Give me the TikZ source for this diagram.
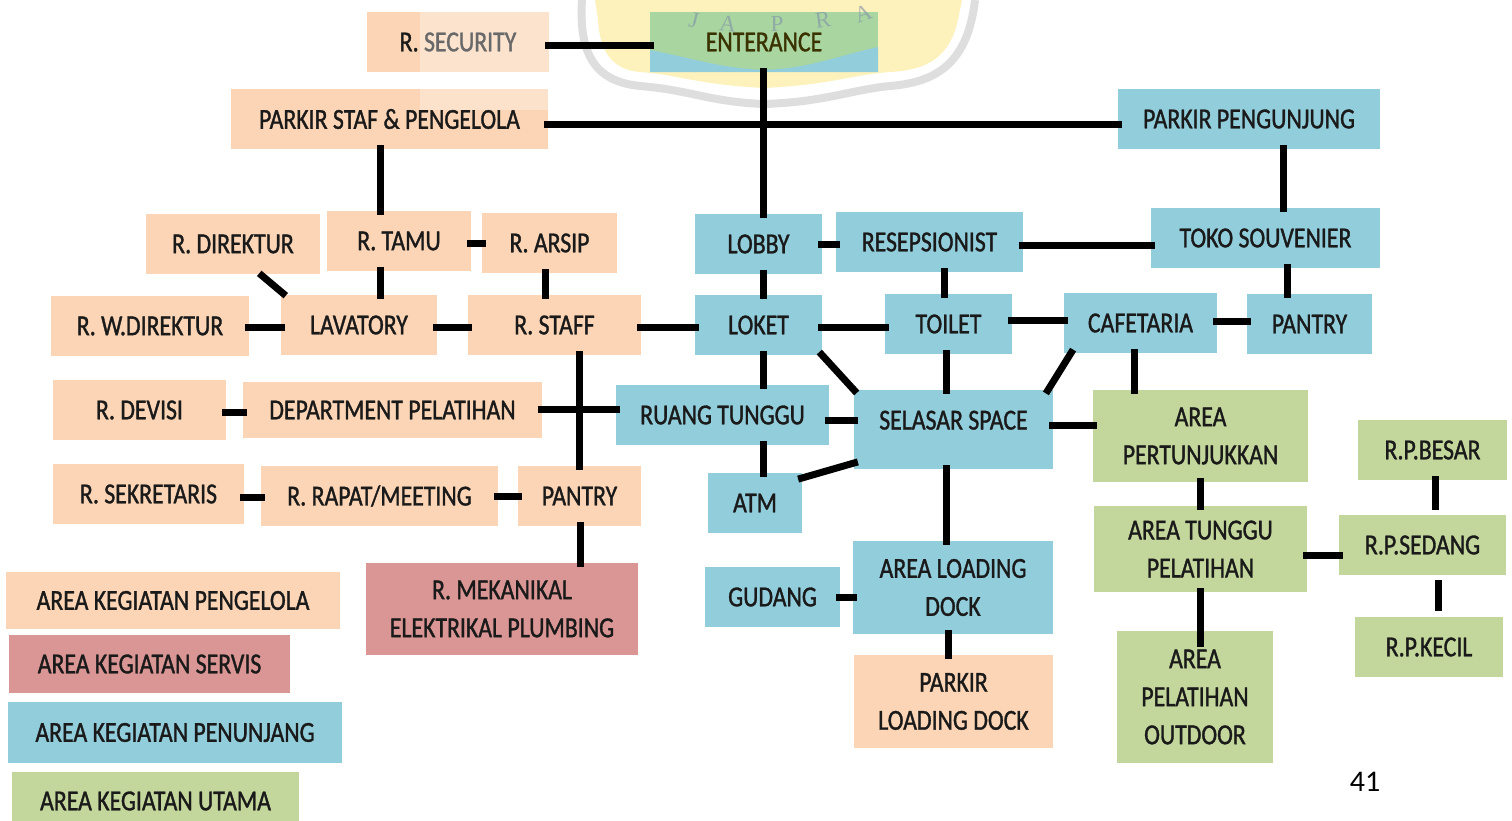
\documentclass[tikz,border=0pt]{standalone}
\usepackage{fontspec}
\setmainfont{Carlito}[FakeStretch=0.82, FakeBold=1.2]
\newfontfamily\numfont{Carlito}
\newfontfamily\wmfont{Liberation Serif}
\usetikzlibrary{calc}
\definecolor{orab}{HTML}{FBD5B5}
\definecolor{penb}{HTML}{92CDDC}
\definecolor{utab}{HTML}{C3D69B}
\definecolor{srvb}{HTML}{D99694}
\definecolor{entg}{HTML}{A9D5A1}
\definecolor{entt}{HTML}{3A3200}
\definecolor{wmy}{HTML}{FDF2BC}
\definecolor{wmg}{HTML}{DEDEDE}
\definecolor{wml}{HTML}{7F8FA8}
\definecolor{txt}{HTML}{1A1A1A}
\tikzset{
  box/.style={inner sep=0pt, outer sep=0pt, align=center, text=txt,
    font=\fontsize{29}{38}\selectfont},
  ob/.style={box, fill=orab},
  bb/.style={box, fill=penb},
  gb/.style={box, fill=utab},
  rb/.style={box, fill=srvb},
  ln/.style={line width=7pt, black, shorten <=-4pt, shorten >=-4pt},
  wm/.style={inner sep=0pt, text=wml, opacity=0.6, font=\wmfont\fontsize{23}{23}\selectfont},
}
\newcommand\bx[7]{\node[#6, minimum width={(#4)-(#2)}, minimum height={(#5)-(#3)}] (#1) at ({((#2)+(#4))/2},{((#3)+(#5))/2}) {#7};}
\begin{document}
\begin{tikzpicture}[x=1pt,y=-1pt]
\useasboundingbox (0,0) rectangle (1512,820);
% watermark
\fill[wmy] (595,0) -- (598,20) .. controls (600,55) and (615,70) .. (640,72) .. controls (680,75) and (700,85) .. (764,88) .. controls (830,85) and (850,75) .. (890,72) .. controls (930,70) and (950,55) .. (958,20) -- (962,0) -- cycle;
\draw[wmg, line width=8pt] (582,0) .. controls (578,60) and (600,82) .. (640,86) .. controls (690,90) and (710,102) .. (764,104) .. controls (825,102) and (850,90) .. (890,86) .. controls (940,82) and (968,60) .. (975,0);
% boxes
\bx{sec}{367}{12}{549}{72}{ob}{R. SECURITY}
\fill[white, opacity=0.35] (420,12) rectangle (549,72);
\fill[entg] (650,12) rectangle (878,72);
\begin{scope}
\clip (650,12) rectangle (878,72);
\fill[penb] (650,50) .. controls (700,60) and (720,68) .. (764,70) .. controls (810,68) and (830,58) .. (878,47) -- (878,72) -- (650,72) -- cycle;
\end{scope}
\node[wm, rotate=-14] (wj) at (694,20) {J};
\node[wm, rotate=-6] (wa) at (728,24) {A};
\node[wm] (wp) at (777,24) {P};
\node[wm, rotate=8] (wr) at (823,20) {R};
\node[wm, rotate=20] (wa2) at (863,14) {A};
\bx{ent}{650}{12}{878}{72}{box, text=entt}{ENTERANCE}
\bx{pstaf}{231}{89}{548}{149}{ob}{PARKIR STAF \& PENGELOLA}
\fill[white, opacity=0.3] (420,89) rectangle (548,110);
\bx{ppeng}{1118}{89}{1380}{149}{bb}{PARKIR PENGUNJUNG}
\bx{dir}{146}{214}{320}{274}{ob}{R. DIREKTUR}
\bx{tamu}{327}{211}{471}{271}{ob}{R. TAMU}
\bx{arsip}{482}{213}{617}{273}{ob}{R. ARSIP}
\bx{lobby}{695}{214}{822}{274}{bb}{LOBBY}
\bx{resep}{836}{212}{1023}{272}{bb}{RESEPSIONIST}
\bx{toko}{1151}{208}{1380}{268}{bb}{TOKO SOUVENIER}
\bx{wdir}{51}{296}{249}{356}{ob}{R. W.DIREKTUR}
\bx{lav}{281}{295}{437}{355}{ob}{LAVATORY}
\bx{staff}{468}{295}{641}{355}{ob}{R. STAFF}
\bx{loket}{695}{295}{822}{355}{bb}{LOKET}
\bx{toilet}{885}{294}{1012}{354}{bb}{TOILET}
\bx{caf}{1064}{293}{1217}{353}{bb}{CAFETARIA}
\bx{pantryb}{1247}{294}{1372}{354}{bb}{PANTRY}
\bx{devisi}{53}{380}{226}{440}{ob}{R. DEVISI}
\bx{dept}{243}{382}{542}{438}{ob}{DEPARTMENT PELATIHAN}
\bx{rtunggu}{616}{385}{829}{445}{bb}{RUANG TUNGGU}
\bx{selasar}{854}{390}{1053}{469}{bb, text height=20pt, text depth=20pt}{SELASAR SPACE}
\bx{pert}{1093}{390}{1308}{482}{gb}{AREA\\PERTUNJUKKAN}
\bx{besar}{1358}{420}{1507}{480}{gb}{R.P.BESAR}
\bx{sekr}{53}{464}{244}{524}{ob}{R. SEKRETARIS}
\bx{rapat}{261}{466}{498}{526}{ob}{R. RAPAT/MEETING}
\bx{pantryo}{518}{466}{641}{526}{ob}{PANTRY}
\bx{atm}{708}{473}{802}{533}{bb}{ATM}
\bx{tunggu}{1094}{506}{1307}{592}{gb}{AREA TUNGGU\\PELATIHAN}
\bx{sedang}{1339}{515}{1506}{575}{gb}{R.P.SEDANG}
\bx{mek}{366}{563}{638}{655}{rb}{R. MEKANIKAL\\ELEKTRIKAL PLUMBING}
\bx{gudang}{705}{567}{840}{627}{bb}{GUDANG}
\bx{ald}{853}{541}{1053}{634}{bb}{AREA LOADING\\DOCK}
\bx{leg1}{6}{572}{340}{629}{ob}{AREA KEGIATAN PENGELOLA}
\bx{kecil}{1355}{617}{1503}{677}{gb}{R.P.KECIL}
\bx{leg2}{9}{635}{290}{693}{rb}{AREA KEGIATAN SERVIS}
\bx{pld}{854}{655}{1053}{748}{ob}{PARKIR\\LOADING DOCK}
\bx{outdoor}{1117}{631}{1273}{763}{gb}{AREA\\PELATIHAN\\OUTDOOR}
\bx{leg3}{8}{702}{342}{763}{bb}{AREA KEGIATAN PENUNJANG}
\bx{leg4}{12}{772}{299}{830}{gb}{AREA KEGIATAN UTAMA}
\node[font=\numfont\fontsize{30}{30}\selectfont, text=black] (num) at (1365,782) {41};
% connectors
\draw[ln] (sec.east |- 0,45) -- (ent.west |- 0,45);
\draw[ln] (ent.south -| 763,0) -- (lobby.north -| 763,0);
\draw[ln] (pstaf.east |- 0,124) -- (ppeng.west |- 0,124);
\draw[ln] (pstaf.south -| 380,0) -- (tamu.north -| 380,0);
\draw[ln] (tamu.south -| 380,0) -- (lav.north -| 380,0);
\draw[ln] (tamu.east |- 0,243) -- (arsip.west |- 0,243);
\draw[ln] (arsip.south -| 545,0) -- (staff.north -| 545,0);
\draw[ln, shorten <=-1pt, shorten >=-1pt] (dir.south -| 260,0) -- (lav.north -| 285,0);
\draw[ln] (wdir.east |- 0,327) -- (lav.west |- 0,327);
\draw[ln] (lav.east |- 0,327) -- (staff.west |- 0,327);
\draw[ln] (staff.east |- 0,327) -- (loket.west |- 0,327);
\draw[ln] (staff.south -| 579,0) -- (pantryo.north -| 579,0);
\draw[ln] (pantryo.south -| 580,0) -- (mek.north -| 580,0);
\draw[ln] (dept.east |- 0,409) -- (rtunggu.west |- 0,409);
\draw[ln] (devisi.east |- 0,412) -- (dept.west |- 0,412);
\draw[ln] (sekr.east |- 0,497) -- (rapat.west |- 0,497);
\draw[ln] (rapat.east |- 0,496) -- (pantryo.west |- 0,496);
\draw[ln] (lobby.east |- 0,244) -- (resep.west |- 0,244);
\draw[ln] (lobby.south -| 763,0) -- (loket.north -| 763,0);
\draw[ln] (resep.east |- 0,245) -- (toko.west |- 0,245);
\draw[ln] (ppeng.south -| 1283,0) -- (toko.north -| 1283,0);
\draw[ln] (toko.south -| 1287,0) -- (pantryb.north -| 1287,0);
\draw[ln] (resep.south -| 944,0) -- (toilet.north -| 944,0);
\draw[ln] (loket.east |- 0,327) -- (toilet.west |- 0,327);
\draw[ln] (toilet.east |- 0,320) -- (caf.west |- 0,320);
\draw[ln] (caf.east |- 0,321) -- (pantryb.west |- 0,321);
\draw[ln] (loket.south -| 763,0) -- (rtunggu.north -| 763,0);
\draw[ln] (loket.south east) -- (selasar.north west);
\draw[ln] (toilet.south -| 946,0) -- (selasar.north -| 946,0);
\draw[ln] (caf.south -| 1071,0) -- (selasar.north -| 1048,0);
\draw[ln] (rtunggu.east |- 0,420) -- (selasar.west |- 0,420);
\draw[ln] (rtunggu.south -| 763,0) -- (atm.north -| 763,0);
\draw[ln] (atm.east |- 0,478) -- (selasar.west |- 0,463);
\draw[ln] (selasar.east |- 0,425) -- (pert.west |- 0,425);
\draw[ln] (caf.south -| 1134,0) -- (pert.north -| 1134,0);
\draw[ln] (selasar.south -| 946,0) -- (ald.north -| 946,0);
\draw[ln] (gudang.east |- 0,597) -- (ald.west |- 0,597);
\draw[ln] (ald.south -| 948,0) -- (pld.north -| 948,0);
\draw[ln] (pert.south -| 1200,0) -- (tunggu.north -| 1200,0);
\draw[ln] (tunggu.east |- 0,555) -- (sedang.west |- 0,555);
\draw[ln, shorten >=-16pt] (tunggu.south -| 1200,0) -- (outdoor.north -| 1200,0);
\draw[ln, shorten >=5pt] (besar.south -| 1435,0) -- (sedang.north -| 1435,0);
\draw[ln, shorten <=5pt, shorten >=6pt] (sedang.south -| 1438,0) -- (kecil.north -| 1438,0);
\end{tikzpicture}
\end{document}
